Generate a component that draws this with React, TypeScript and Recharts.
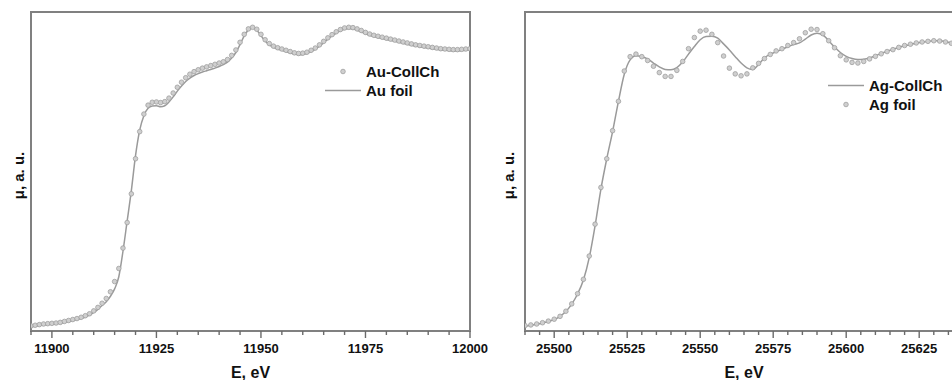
import React from 'react';
import { ComposedChart, Line, XAxis, YAxis, Legend, ReferenceArea } from 'recharts';

// Au L3 edge panel
const auEnergy = [
  11895, 11896, 11897, 11898, 11899, 11900, 11901, 11902, 11903, 11904,
  11905, 11906, 11907, 11908, 11909, 11910, 11911, 11912, 11913, 11914,
  11915, 11916, 11917, 11918, 11919, 11920, 11921, 11922, 11923, 11924,
  11925, 11926, 11927, 11928, 11929, 11930, 11931, 11932, 11933, 11934,
  11935, 11936, 11937, 11938, 11939, 11940, 11941, 11942, 11943, 11944,
  11945, 11946, 11947, 11948, 11949, 11950, 11951, 11952, 11953, 11954,
  11955, 11956, 11957, 11958, 11959, 11960, 11961, 11962, 11963, 11964,
  11965, 11966, 11967, 11968, 11969, 11970, 11971, 11972, 11973, 11974,
  11975, 11976, 11977, 11978, 11979, 11980, 11981, 11982, 11983, 11984,
  11985, 11986, 11987, 11988, 11989, 11990, 11991, 11992, 11993, 11994,
  11995, 11996, 11997, 11998, 11999, 12000,
];
const auFoil = [
  1.3, 1.5, 1.7, 1.9, 2.0, 2.1, 2.2, 2.4, 2.7, 3.0,
  3.3, 3.6, 3.9, 4.4, 5.0, 5.8, 6.8, 8.0, 9.2, 10.9,
  13.2, 17.0, 25.0, 34.5, 44.0, 55.0, 63.0, 67.5, 69.8, 70.5,
  70.6, 70.3, 70.6, 71.8, 73.4, 75.2, 76.8, 78.2, 79.3, 80.1,
  80.7, 81.2, 81.6, 82.0, 82.4, 82.9, 83.5, 84.3, 85.6, 87.3,
  89.8, 92.5, 94.4, 95.0, 94.3, 92.6, 90.9, 89.7, 88.9, 88.4,
  88.0, 87.6, 87.2, 86.8, 86.6, 86.7, 87.0, 87.6, 88.3, 89.3,
  90.4, 91.5, 92.5, 93.4, 94.1, 94.6, 94.8, 94.7, 94.3, 93.8,
  93.2, 92.7, 92.3, 92.0, 91.7, 91.4, 91.1, 90.8, 90.5, 90.2,
  89.9, 89.6, 89.3, 89.1, 88.9, 88.7, 88.5, 88.3, 88.1, 88.0,
  87.9, 87.8, 87.8, 87.9, 88.0, 88.1,
];
const auCollCh = [
  1.6, 1.8, 2.0, 2.2, 2.3, 2.4, 2.5, 2.7, 3.0, 3.3,
  3.6, 3.9, 4.3, 4.8, 5.4, 6.3, 7.4, 8.7, 10.2, 12.3,
  15.5, 19.6, 26.0, 34.0, 43.0, 54.0, 62.5, 68.0, 70.8, 71.7,
  71.8, 71.6, 71.9, 73.0, 74.6, 76.4, 78.0, 79.4, 80.5, 81.3,
  81.9, 82.4, 82.8, 83.2, 83.6, 84.0, 84.4, 85.1, 86.4, 88.1,
  90.5, 93.0, 94.7, 95.2, 94.6, 93.0, 91.3, 90.1, 89.3, 88.8,
  88.4, 88.0, 87.6, 87.2, 87.0, 87.1, 87.4, 88.0, 88.7, 89.7,
  90.8, 91.9, 92.9, 93.8, 94.5, 95.0, 95.2, 95.1, 94.7, 94.2,
  93.6, 93.1, 92.7, 92.4, 92.1, 91.8, 91.5, 91.2, 90.9, 90.6,
  90.3, 90.0, 89.7, 89.5, 89.3, 89.1, 88.9, 88.7, 88.5, 88.4,
  88.3, 88.2, 88.2, 88.3, 88.4, 88.5,
];
const auTicks = [
  11895, 11900, 11905, 11910, 11915, 11920, 11925, 11930, 11935, 11940, 11945,
  11950, 11955, 11960, 11965, 11970, 11975, 11980, 11985, 11990, 11995, 12000,
];

// Ag K edge panel
const agEnergy = [
  25490, 25492, 25494, 25496, 25498, 25500, 25502, 25504, 25506, 25508,
  25510, 25512, 25514, 25516, 25518, 25520, 25522, 25524, 25526, 25528,
  25530, 25532, 25534, 25536, 25538, 25540, 25542, 25544, 25546, 25548,
  25550, 25552, 25554, 25556, 25558, 25560, 25562, 25564, 25566, 25568,
  25570, 25572, 25574, 25576, 25578, 25580, 25582, 25584, 25586, 25588,
  25590, 25592, 25594, 25596, 25598, 25600, 25602, 25604, 25606, 25608,
  25610, 25612, 25614, 25616, 25618, 25620, 25622, 25624, 25626, 25628,
  25630, 25632, 25634, 25636, 25638, 25640,
];
const agCollCh = [
  1.5, 1.8, 2.1, 2.5, 3.0, 3.6, 4.6, 6.1, 8.4, 11.6,
  16.0, 23.0, 33.0, 44.5, 54.0, 62.5, 72.0, 80.5, 85.0, 86.3,
  86.0, 85.3, 84.0, 82.8, 82.0, 81.9, 82.6, 84.3, 86.8, 89.2,
  91.3, 92.3, 92.4, 91.8, 90.0, 88.1, 86.0, 84.0, 82.5, 82.0,
  83.6, 85.6, 86.8, 87.5, 88.3, 89.1, 89.8, 90.3, 91.5, 92.8,
  93.3, 92.8, 91.0, 89.0, 87.3, 86.1, 85.4, 85.1, 85.2, 85.6,
  86.3, 87.0, 87.7, 88.3, 88.9, 89.4, 89.8, 90.2, 90.5, 90.8,
  91.0, 91.0, 90.7, 90.3, 90.0, 89.8,
];
const agFoil = [
  1.7, 1.9, 2.2, 2.6, 3.1, 3.7, 4.6, 6.2, 8.5, 11.7,
  16.2, 23.5, 33.5, 45.0, 54.0, 62.8, 72.0, 81.5, 86.0, 86.8,
  86.0, 84.8, 83.0, 81.0, 79.8, 79.8, 81.7, 84.5, 88.5, 92.0,
  94.0, 94.3, 93.0, 90.4, 86.2, 82.4, 80.6, 80.0, 80.6, 82.5,
  83.9, 85.4, 86.7, 87.8, 88.5, 89.5, 90.4, 91.6, 93.5, 94.6,
  94.5, 93.2, 91.0, 88.8, 86.3, 85.0, 84.2, 84.0, 84.5, 85.3,
  86.1, 86.9, 87.6, 88.2, 88.9, 89.5, 89.9, 90.3, 90.6, 90.8,
  91.0, 90.9, 90.6, 90.2, 90.0, 89.8,
];
const agTicks = [
  25490, 25495, 25500, 25505, 25510, 25515, 25520, 25525, 25530, 25535, 25540,
  25545, 25550, 25555, 25560, 25565, 25570, 25575, 25580, 25585, 25590, 25595,
  25600, 25605, 25610, 25615, 25620, 25625, 25630, 25635, 25640,
];

const FONT = '"Liberation Sans", Arial, sans-serif';
const GRAY_LINE = '#9a9a9a';
const FRAME = '#808080';
const dotStyle = { r: 2.3, fill: '#cfcfcf', stroke: '#a0a0a0', strokeWidth: 0.8 };

function EnergyTick(props: any) {
  const { x, y, payload } = props;
  const major = payload.value % 25 === 0;
  return (
    <g>
      <line x1={x} x2={x} y1={y} y2={y + (major ? 7 : 4)} stroke="#6a6a6a" strokeWidth={1.4} />
      {major && (
        <text x={x} y={y + 13} dy="0.71em" textAnchor="middle" fontFamily={FONT} fontSize={13} fontWeight="bold" fill="#111">
          {payload.value}
        </text>
      )}
    </g>
  );
}

function YLabel(props: any) {
  const { viewBox } = props;
  const cx = viewBox.x + 24;
  const cy = viewBox.y + viewBox.height / 2 + 4;
  return (
    <text transform={`translate(${cx},${cy}) rotate(-90)`} textAnchor="middle" fontFamily={FONT} fontSize={15} fontWeight="bold" fill="#111">
      μ, a. u.
    </text>
  );
}

function XLabel(props: any) {
  const { viewBox } = props;
  return (
    <text x={viewBox.x + viewBox.width / 2} y={viewBox.y + viewBox.height - 2} textAnchor="middle" fontFamily={FONT} fontSize={16} fontWeight="bold" fill="#111">
      E, eV
    </text>
  );
}

type LegendItem = { name: string; kind: 'dot' | 'line' };

function makeLegend(items: LegendItem[]) {
  return () => (
    <div style={{ fontFamily: FONT, fontSize: 15, fontWeight: 'bold', color: '#111' }}>
      {items.map((it) => (
        <div key={it.name} style={{ display: 'flex', alignItems: 'center', height: 19 }}>
          <svg width={36} height={19} style={{ marginRight: 5 }}>
            {it.kind === 'line' ? (
              <line x1={0} x2={36} y1={9.5} y2={9.5} stroke={GRAY_LINE} strokeWidth={1.5} />
            ) : (
              <circle cx={18} cy={9.5} {...dotStyle} />
            )}
          </svg>
          <span>{it.name}</span>
        </div>
      ))}
    </div>
  );
}

type PanelProps = {
  energy: number[];
  lineValues: number[];
  dotValues: number[];
  lineName: string;
  dotName: string;
  ticks: number[];
  domain: [number, number];
  legendOrder: LegendItem[];
  legendPos: { top: number; left: number };
  width: number;
  marginRight: number;
  yWidth: number;
};

function Panel(props: PanelProps) {
  const { energy, lineValues, dotValues, lineName, dotName, ticks, domain, legendOrder, legendPos, width, marginRight, yWidth } = props;
  const data = energy.map((e, i) => ({ e, line: lineValues[i], dots: dotValues[i] }));
  return (
    <ComposedChart width={width} height={380} data={data} margin={{ top: 12, right: marginRight, bottom: 0, left: 0 }}>
      <XAxis
        dataKey="e"
        type="number"
        domain={domain}
        ticks={ticks}
        allowDataOverflow
        axisLine={false}
        tickLine={false}
        tickSize={0}
        tickMargin={0}
        tick={<EnergyTick />}
        interval={0}
        height={49}
        label={{ content: XLabel }}
      />
      <YAxis type="number" domain={[0, 100]} width={yWidth} tick={false} tickLine={false} axisLine={false} label={{ content: YLabel }} />
      <ReferenceArea x1={domain[0]} x2={domain[1]} y1={0} y2={100} fill="none" stroke={FRAME} strokeWidth={2} ifOverflow="visible" />
      <Line type="monotone" dataKey="line" name={lineName} stroke={GRAY_LINE} strokeWidth={1.5} dot={false} isAnimationActive={false} />
      <Line type="monotone" dataKey="dots" name={dotName} stroke="none" dot={dotStyle} activeDot={false} isAnimationActive={false} />
      <Legend layout="vertical" align="center" verticalAlign="middle" content={makeLegend(legendOrder)} wrapperStyle={{ top: legendPos.top, left: legendPos.left, width: 'auto' }} />
    </ComposedChart>
  );
}

export default function App() {
  return (
    <div style={{ position: 'fixed', left: 0, top: 0, width: 952, height: 380, overflow: 'hidden', background: '#fff' }}>
      <div style={{ position: 'absolute', left: 0, top: 0 }}>
        <Panel
          energy={auEnergy}
          lineValues={auFoil}
          dotValues={auCollCh}
          lineName="Au foil"
          dotName="Au-CollCh"
          ticks={auTicks}
          domain={[11895, 12000]}
          legendOrder={[{ name: 'Au-CollCh', kind: 'dot' }, { name: 'Au foil', kind: 'line' }]}
          legendPos={{ top: 62, left: 325 }}
          width={490}
          marginRight={20}
          yWidth={31}
        />
      </div>
      <div style={{ position: 'absolute', left: 490, top: 0 }}>
        <Panel
          energy={agEnergy}
          lineValues={agCollCh}
          dotValues={agFoil}
          lineName="Ag-CollCh"
          dotName="Ag foil"
          ticks={agTicks}
          domain={[25490, 25640]}
          legendOrder={[{ name: 'Ag-CollCh', kind: 'line' }, { name: 'Ag foil', kind: 'dot' }]}
          legendPos={{ top: 76, left: 338 }}
          width={480}
          marginRight={7}
          yWidth={35}
        />
      </div>
    </div>
  );
}
